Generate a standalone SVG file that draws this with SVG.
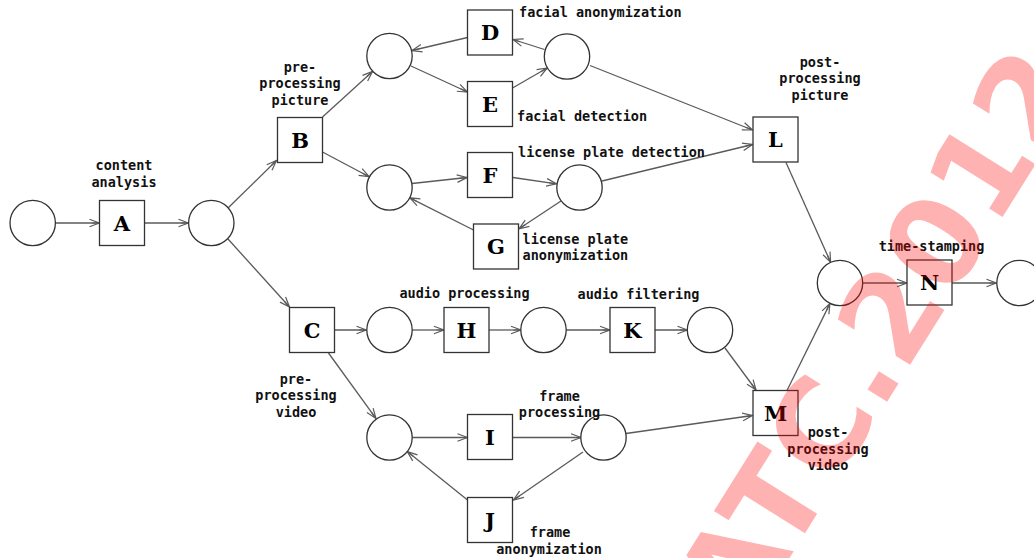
<svg xmlns="http://www.w3.org/2000/svg" width="1034" height="558" viewBox="0 0 1034 558">
<style>
.n{fill:#fff;stroke:#333;stroke-width:1.3}
.t{font-family:"DejaVu Serif","Liberation Serif",serif;font-weight:bold;font-size:21px;text-anchor:middle;fill:#000}
.l{font-family:"DejaVu Sans Mono","Liberation Mono",monospace;font-weight:bold;font-size:13.5px;fill:#111}
.m{text-anchor:middle}
.e{fill:none;stroke:#5a5a5a;stroke-width:1.3;marker-end:url(#ah)}
.wm{font-family:"DejaVu Sans","Liberation Sans",sans-serif;font-weight:bold;font-size:122px;fill:#ff0000;fill-opacity:0.3}
</style>
<defs>
<marker id="ah" viewBox="0 0 12 10" refX="11" refY="5" markerWidth="12" markerHeight="10" orient="auto" markerUnits="userSpaceOnUse">
<path d="M1,1.2 L11,5 L1,8.8 M11,5 L3.5,5" fill="none" stroke="#5a5a5a" stroke-width="1.2"/>
</marker>
</defs>
<rect width="1034" height="558" fill="#fff"/>
<g id="connectors">
<line class="e" x1="55.5" y1="223" x2="99.5" y2="223"/>
<line class="e" x1="144.5" y1="223" x2="188.5" y2="223"/>
<line class="e" x1="228" y1="208" x2="276.5" y2="160.5"/>
<line class="e" x1="228" y1="239" x2="289.5" y2="307"/>
<line class="e" x1="322.5" y1="117" x2="372.5" y2="71.5"/>
<line class="e" x1="322.5" y1="152" x2="369.2" y2="176.7"/>
<line class="e" x1="411" y1="66" x2="467.5" y2="92"/>
<line class="e" x1="467.5" y1="37.5" x2="412" y2="50.5"/>
<line class="e" x1="512.5" y1="88" x2="547.2" y2="68"/>
<line class="e" x1="544.5" y1="49.5" x2="513" y2="39.5"/>
<line class="e" x1="590" y1="65.5" x2="752.5" y2="130"/>
<line class="e" x1="412" y1="183.5" x2="467" y2="177.5"/>
<line class="e" x1="513" y1="177.5" x2="556.5" y2="183.8"/>
<line class="e" x1="561" y1="201" x2="519" y2="228.8"/>
<line class="e" x1="473.5" y1="230" x2="409.8" y2="197.8"/>
<line class="e" x1="602" y1="181" x2="752.5" y2="144.5"/>
<line class="e" x1="786" y1="162.5" x2="830.6" y2="262.3"/>
<line class="e" x1="787" y1="390.5" x2="829.9" y2="303.6"/>
<line class="e" x1="863" y1="283" x2="907" y2="283"/>
<line class="e" x1="952" y1="283" x2="996.5" y2="283"/>
<line class="e" x1="334.5" y1="330" x2="366.5" y2="330"/>
<line class="e" x1="412" y1="330" x2="444" y2="330"/>
<line class="e" x1="489" y1="330" x2="521" y2="330"/>
<line class="e" x1="566" y1="330" x2="610" y2="330"/>
<line class="e" x1="655" y1="330" x2="687.5" y2="330"/>
<line class="e" x1="725" y1="348" x2="756" y2="390"/>
<line class="e" x1="328.5" y1="353" x2="375.9" y2="418.4"/>
<line class="e" x1="412" y1="437.5" x2="467.5" y2="437.5"/>
<line class="e" x1="512.5" y1="437.5" x2="581" y2="437.5"/>
<line class="e" x1="626" y1="433.5" x2="752.5" y2="415.5"/>
<line class="e" x1="583" y1="452" x2="513.5" y2="500"/>
<line class="e" x1="467.5" y1="500" x2="407.3" y2="451.6"/>
</g>
<g id="n_start"><circle class="n" cx="32.7" cy="223" r="22.7"/></g>
<g id="A"><rect class="n" x="99.5" y="200.5" width="45" height="45"/><text class="t" x="122" y="230.5">A</text></g>
<g id="n_fork"><circle class="n" cx="211.3" cy="223" r="22.7"/></g>
<g id="B"><rect class="n" x="277.5" y="117.5" width="45" height="45"/><text class="t" x="300" y="147.5">B</text></g>
<g id="C"><rect class="n" x="289.5" y="307.5" width="45" height="45"/><text class="t" x="312" y="337.5">C</text></g>
<g id="n_de1"><circle class="n" cx="389.5" cy="56" r="22.7"/></g>
<g id="D"><rect class="n" x="467.5" y="10" width="45" height="45"/><text class="t" x="490" y="40">D</text></g>
<g id="E"><rect class="n" x="467.5" y="81.5" width="45" height="45"/><text class="t" x="490" y="111.5">E</text></g>
<g id="n_de2"><circle class="n" cx="567" cy="56.5" r="22.7"/></g>
<g id="n_fg1"><circle class="n" cx="389.5" cy="187.5" r="22.7"/></g>
<g id="F"><rect class="n" x="467.5" y="152.5" width="45" height="45"/><text class="t" x="490" y="182.5">F</text></g>
<g id="n_fg2"><circle class="n" cx="579.5" cy="187.5" r="22.7"/></g>
<g id="G"><rect class="n" x="473.5" y="224" width="45" height="45"/><text class="t" x="496" y="254">G</text></g>
<g id="L"><rect class="n" x="753" y="117" width="45" height="45"/><text class="t" x="775.5" y="147">L</text></g>
<g id="n_join"><circle class="n" cx="840" cy="283" r="22.7"/></g>
<g id="N"><rect class="n" x="907" y="260" width="45" height="45"/><text class="t" x="929.5" y="290">N</text></g>
<g id="n_end"><circle class="n" cx="1019.5" cy="283" r="22.7"/></g>
<g id="n_h1"><circle class="n" cx="389.5" cy="330" r="22.7"/></g>
<g id="H"><rect class="n" x="444" y="307.5" width="45" height="45"/><text class="t" x="466.5" y="337.5">H</text></g>
<g id="n_h2"><circle class="n" cx="543.5" cy="330" r="22.7"/></g>
<g id="K"><rect class="n" x="610" y="307.5" width="45" height="45"/><text class="t" x="632.5" y="337.5">K</text></g>
<g id="n_k2"><circle class="n" cx="710" cy="330" r="22.7"/></g>
<g id="M"><rect class="n" x="753" y="390.5" width="45" height="45"/><text class="t" x="775.5" y="420.5">M</text></g>
<g id="n_i1"><circle class="n" cx="389.5" cy="437.5" r="22.7"/></g>
<g id="I"><rect class="n" x="467.5" y="414.5" width="45" height="45"/><text class="t" x="490" y="444.5">I</text></g>
<g id="n_i2"><circle class="n" cx="603.5" cy="437.5" r="22.7"/></g>
<g id="J"><rect class="n" x="467.5" y="497.5" width="45" height="45"/><text class="t" x="490" y="527.5">J</text></g>
<g id="labels">
<text class="l m" x="124" y="170">content</text>
<text class="l m" x="124" y="186.5">analysis</text>
<text class="l m" x="300" y="71.5">pre-</text>
<text class="l m" x="300" y="88">processing</text>
<text class="l m" x="300" y="104.5">picture</text>
<text class="l" x="519" y="16.5">facial anonymization</text>
<text class="l" x="517" y="120.5">facial detection</text>
<text class="l" x="518" y="157">license plate detection</text>
<text class="l" x="522.5" y="243.5">license plate</text>
<text class="l" x="522.5" y="260">anonymization</text>
<text class="l m" x="820" y="66.5">post-</text>
<text class="l m" x="820" y="83">processing</text>
<text class="l m" x="820" y="99.5">picture</text>
<text class="l m" x="931.5" y="250.5">time-stamping</text>
<text class="l m" x="464.5" y="298">audio processing</text>
<text class="l m" x="638.5" y="298.5">audio filtering</text>
<text class="l m" x="296" y="383.5">pre-</text>
<text class="l m" x="296" y="400">processing</text>
<text class="l m" x="296" y="416.5">video</text>
<text class="l m" x="559.5" y="400.5">frame</text>
<text class="l m" x="559.5" y="417">processing</text>
<text class="l m" x="550" y="537">frame</text>
<text class="l m" x="549" y="553.5">anonymization</text>
<text class="l m" x="828" y="437">post-</text>
<text class="l m" x="828" y="453.5">processing</text>
<text class="l m" x="828" y="470">video</text>
</g>
<g id="watermark">
<text class="wm" text-anchor="end" transform="translate(1085,85) rotate(-58)">ATC.2012</text>
</g>
</svg>
